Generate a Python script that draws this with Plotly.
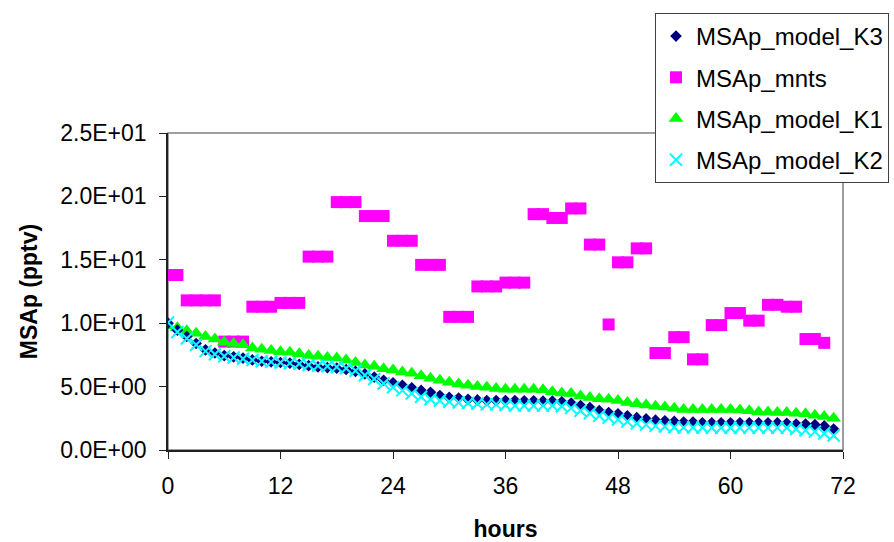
import plotly.graph_objects as go

# Time axis (hours) for the model runs and the measurements
model_hours = list(range(72))
mnts_hours = list(range(71))

# Modelled MSAp (pptv), three rate-constant cases
msap_k1 = [9.8, 9.65, 9.4, 9.2, 8.95, 8.75, 8.5, 8.4, 8.3, 8.05,
           7.95, 7.85, 7.75, 7.7, 7.6, 7.45, 7.4, 7.3, 7.25, 7.1,
           6.9, 6.7, 6.6, 6.4, 6.3, 6.15, 6.05, 5.85, 5.65, 5.5,
           5.35, 5.2, 5.1, 5.0, 4.95, 4.85, 4.8, 4.8, 4.8, 4.8,
           4.75, 4.6, 4.5, 4.45, 4.25, 4.15, 4.05, 4.0, 3.9, 3.75,
           3.65, 3.55, 3.45, 3.4, 3.3, 3.2, 3.2, 3.2, 3.2, 3.2,
           3.2, 3.15, 3.1, 3.0, 3.0, 2.95, 2.95, 2.9, 2.85, 2.75,
           2.65, 2.5]
msap_k3 = [10.0, 9.45, 8.95, 8.4, 7.9, 7.65, 7.45, 7.35, 7.25, 7.1,
           7.0, 6.95, 6.9, 6.85, 6.75, 6.65, 6.55, 6.5, 6.45, 6.35,
           6.2, 6.0, 5.75, 5.5, 5.3, 5.1, 4.9, 4.7, 4.55, 4.3,
           4.15, 4.1, 4.0, 3.95, 3.9, 3.9, 3.9, 3.9, 3.88, 3.88,
           3.85, 3.85, 3.8, 3.7, 3.5, 3.35, 3.1, 2.95, 2.85, 2.7,
           2.55, 2.45, 2.35, 2.3, 2.25, 2.2, 2.2, 2.15, 2.15, 2.15,
           2.15, 2.15, 2.15, 2.15, 2.15, 2.15, 2.1, 2.05, 2.05, 2.0,
           1.9, 1.65]
msap_k2 = [10.05, 9.3, 8.8, 8.3, 7.8, 7.55, 7.4, 7.3, 7.2, 7.1,
           7.0, 6.95, 6.9, 6.85, 6.8, 6.7, 6.65, 6.6, 6.55, 6.45,
           6.25, 5.9, 5.6, 5.25, 4.95, 4.7, 4.45, 4.2, 4.0, 3.9,
           3.8, 3.75, 3.7, 3.65, 3.6, 3.6, 3.55, 3.5, 3.5, 3.5,
           3.5, 3.5, 3.45, 3.3, 3.1, 2.9, 2.7, 2.55, 2.4, 2.25,
           2.1, 2.0, 1.9, 1.85, 1.8, 1.78, 1.77, 1.77, 1.76, 1.76,
           1.75, 1.75, 1.75, 1.75, 1.75, 1.75, 1.75, 1.65, 1.55, 1.45,
           1.3, 1.15]

# Measured MSAp (pptv)
msap_mnts = [13.8, 13.8, 11.8, 11.8, 11.8, 11.8, 8.55, 8.55, 8.55,
             11.3, 11.3, 11.3, 11.6, 11.6, 11.6, 15.25, 15.25, 15.25,
             19.55, 19.55, 19.55, 18.45, 18.45, 18.45, 16.5, 16.5, 16.5,
             14.6, 14.6, 14.6, 10.5, 10.5, 10.5, 12.9, 12.9, 12.9,
             13.2, 13.2, 13.2, 18.6, 18.6, 18.3, 18.3, 19.05, 19.05,
             16.2, 16.2, 9.9, 14.8, 14.8, 15.9, 15.9, 7.65, 7.65,
             8.9, 8.9, 7.15, 7.15, 9.85, 9.85, 10.8, 10.8, 10.2, 10.2,
             11.45, 11.45, 11.3, 11.3, 8.75, 8.75, 8.45]

x_ticks = [0, 12, 24, 36, 48, 60, 72]
y_ticks = [0, 5, 10, 15, 20, 25]
y_ticktext = [f"{v:.1E}" for v in y_ticks]

FONT = "Liberation Sans, Arial, sans-serif"

fig = go.Figure()

fig.add_trace(go.Scatter(
    x=mnts_hours, y=msap_mnts, mode="markers", name="MSAp_mnts",
    legendrank=2, legendgroup="b",
    marker=dict(symbol="square", size=12, color="#FF00FF"),
))
fig.add_trace(go.Scatter(
    x=model_hours, y=msap_k1, mode="markers", name="MSAp_model_K1",
    legendrank=3, legendgroup="c",
    marker=dict(symbol="triangle-up", size=13, color="#00FF00"),
))
fig.add_trace(go.Scatter(
    x=model_hours, y=msap_k3, mode="markers", name="MSAp_model_K3",
    legendrank=1, legendgroup="a",
    marker=dict(symbol="diamond", size=9, color="#000080"),
))
fig.add_trace(go.Scatter(
    x=model_hours, y=msap_k2, mode="markers", name="MSAp_model_K2",
    legendrank=4, legendgroup="d",
    marker=dict(symbol="x-thin-open", size=12, color="#00FFFF",
                line=dict(color="#00FFFF", width=2)),
))

# Grey plot-area frame (top and right edges show)
fig.add_shape(type="rect", xref="paper", yref="paper", x0=0, x1=1, y0=0, y1=1,
              line=dict(color="#808080", width=1.5), layer="below")

fig.update_layout(
    width=894, height=542,
    margin=dict(l=168, r=51, t=133, b=92, autoexpand=False),
    paper_bgcolor="white", plot_bgcolor="white",
    font=dict(family=FONT, size=22, color="black"),
    showlegend=True,
    legend=dict(
        x=(655 - 168) / 675, y=(450 - 13) / 317, xanchor="left", yanchor="top",
        bgcolor="white", bordercolor="#404040", borderwidth=1,
        font=dict(family=FONT, size=24, color="black"),
        tracegroupgap=7,
    ),
    xaxis=dict(
        range=[0, 72], tickvals=x_ticks, ticktext=[str(v) for v in x_ticks],
        showgrid=False, zeroline=False, showline=True, linecolor="#202020",
        linewidth=1.5, ticks="outside", ticklen=7, tickcolor="#202020",
        tickfont=dict(size=23), ticklabelstandoff=8, automargin=False,
        title=dict(text="<b>hours</b>", font=dict(size=23), standoff=25),
    ),
    yaxis=dict(
        range=[0, 25], tickvals=y_ticks, ticktext=y_ticktext,
        showgrid=False, zeroline=False, showline=True, linecolor="#202020",
        linewidth=1.5, ticks="outside", ticklen=7, tickcolor="#202020",
        tickfont=dict(size=23), ticklabelstandoff=8, automargin=False,
        title=dict(text="<b>MSAp (pptv)</b>", font=dict(size=23), standoff=16),
    ),
)

fig.write_html("out.html")
